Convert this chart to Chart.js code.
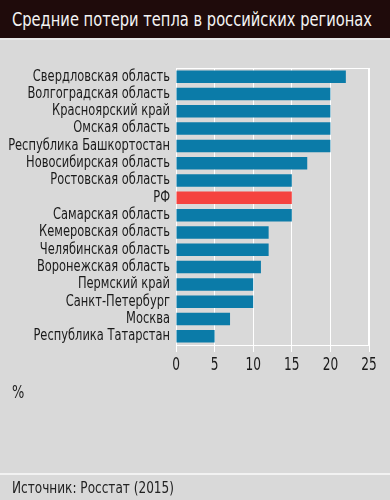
<!DOCTYPE html>
<html>
<head>
<meta charset="utf-8">
<script src="https://cdn.jsdelivr.net/npm/chart.js@4/dist/chart.umd.min.js"></script>
<style>
  html, body { margin: 0; padding: 0; }
  body {
    width: 390px; height: 500px; position: relative; overflow: hidden;
    background: #d9d9d9;
    font-family: "DejaVu Sans Condensed", "Liberation Sans Narrow", Roboto, sans-serif;
  }
  #title {
    position: absolute; left: 0; top: 0; width: 390px; height: 38px;
    background: #1f0b0b; border-bottom: 2px solid #e8e8e8;
  }
  #title span {
    position: absolute; left: 12px; top: 0; line-height: 38px;
    font-size: 19px; color: #f4f4f4; white-space: nowrap; transform-origin: 0 50%;
  }
  #wrap { position: absolute; left: 0; top: 0; width: 390px; height: 500px; }
  #unit {
    position: absolute; left: 12px; top: 381px; font-size: 18px; color: #222;
    transform: scaleX(0.8); transform-origin: 0 50%;
  }
  #rule { position: absolute; left: 0; top: 473px; width: 390px; height: 2px; background: #f2f2f2; }
  #source {
    position: absolute; left: 12px; top: 479px; font-size: 15px; color: #222;
    white-space: nowrap; transform-origin: 0 50%;
  }
</style>
</head>
<body>
<div id="wrap"><canvas id="chart" width="390" height="500"></canvas></div>
<div id="title"><span>Средние потери тепла в российских регионах</span></div>
<div id="unit">%</div>
<div id="rule"></div>
<div id="source">Источник: Росстат (2015)</div>
<script>
const regions = [
  "Свердловская область", "Волгоградская область", "Красноярский край", "Омская область",
  "Республика Башкортостан", "Новосибирская область", "Ростовская область", "РФ",
  "Самарская область", "Кемеровская область", "Челябинская область", "Воронежская область",
  "Пермский край", "Санкт-Петербург", "Москва", "Республика Татарстан"
];
const heatLoss = [22, 20, 20, 20, 20, 17, 15, 15, 15, 12, 12, 11, 10, 10, 7, 5];
const xTicks = [0, 5, 10, 15, 20, 25];

const BLUE = "#0b7ba8";
const RED = "#f5433f";
const FONT = "'DejaVu Sans Condensed', 'Liberation Sans Narrow', Roboto, sans-serif";

// squeeze the html texts to the narrow face of the original
function fitWidth(el, w) {
  const r = el.getBoundingClientRect().width;
  el.style.transform = `scaleX(${w / r})`;
}
fitWidth(document.querySelector("#title span"), 360);
fitWidth(document.getElementById("source"), 162);

// white frame round the plot area
const frame = {
  id: "frame",
  beforeDatasetsDraw(chart) {
    const { ctx, chartArea: a } = chart;
    ctx.save();
    ctx.strokeStyle = "#ffffff";
    ctx.lineWidth = 1;
    ctx.strokeRect(a.left + 0.5, a.top + 0.5, a.right - a.left - 1, a.bottom - a.top);
    ctx.restore();
  }
};

// axis labels in a condensed look (canvas text scaled horizontally)
const narrowLabels = {
  id: "narrowLabels",
  afterDraw(chart) {
    const { ctx } = chart;
    const x = chart.scales.x, y = chart.scales.y;
    ctx.save();
    ctx.fillStyle = "#1a1a1a";
    ctx.textBaseline = "middle";
    ctx.font = `15px ${FONT}`;
    ctx.textAlign = "right";
    chart.data.labels.forEach((label, i) => {
      ctx.save();
      ctx.translate(x.left - 6, y.getPixelForTick(i));
      ctx.scale(0.85, 1);
      ctx.fillText(label, 0, 0);
      ctx.restore();
    });
    ctx.font = `18px ${FONT}`;
    ctx.textAlign = "center";
    xTicks.forEach(v => {
      ctx.save();
      ctx.translate(x.getPixelForValue(v), x.top + 20);
      ctx.scale(0.75, 1);
      ctx.fillText(String(v), 0, 0);
      ctx.restore();
    });
    ctx.restore();
  }
};

new Chart(document.getElementById("chart"), {
  type: "bar",
  data: {
    labels: regions,
    datasets: [{
      data: heatLoss,
      backgroundColor: regions.map(r => r === "РФ" ? RED : BLUE),
      barPercentage: 0.72,
      categoryPercentage: 1
    }]
  },
  options: {
    indexAxis: "y",
    responsive: false,
    animation: false,
    devicePixelRatio: 1,
    layout: { padding: { top: 68, right: 21, bottom: 125, left: 0 } },
    plugins: { legend: { display: false }, tooltip: { enabled: false } },
    scales: {
      x: {
        min: xTicks[0],
        max: xTicks[xTicks.length - 1],
        afterBuildTicks: s => { s.ticks = xTicks.map(v => ({ value: v })); },
        afterFit: s => { s.height = 30; },
        grid: { color: "#ffffff", lineWidth: 1, tickLength: 7 },
        border: { color: "#ffffff", width: 1 },
        ticks: { display: false }
      },
      y: {
        afterFit: s => { s.width = 176; },
        grid: { display: false },
        border: { color: "#ffffff", width: 1 },
        ticks: { display: false, autoSkip: false }
      }
    }
  },
  plugins: [frame, narrowLabels]
});
</script>
</body>
</html>
